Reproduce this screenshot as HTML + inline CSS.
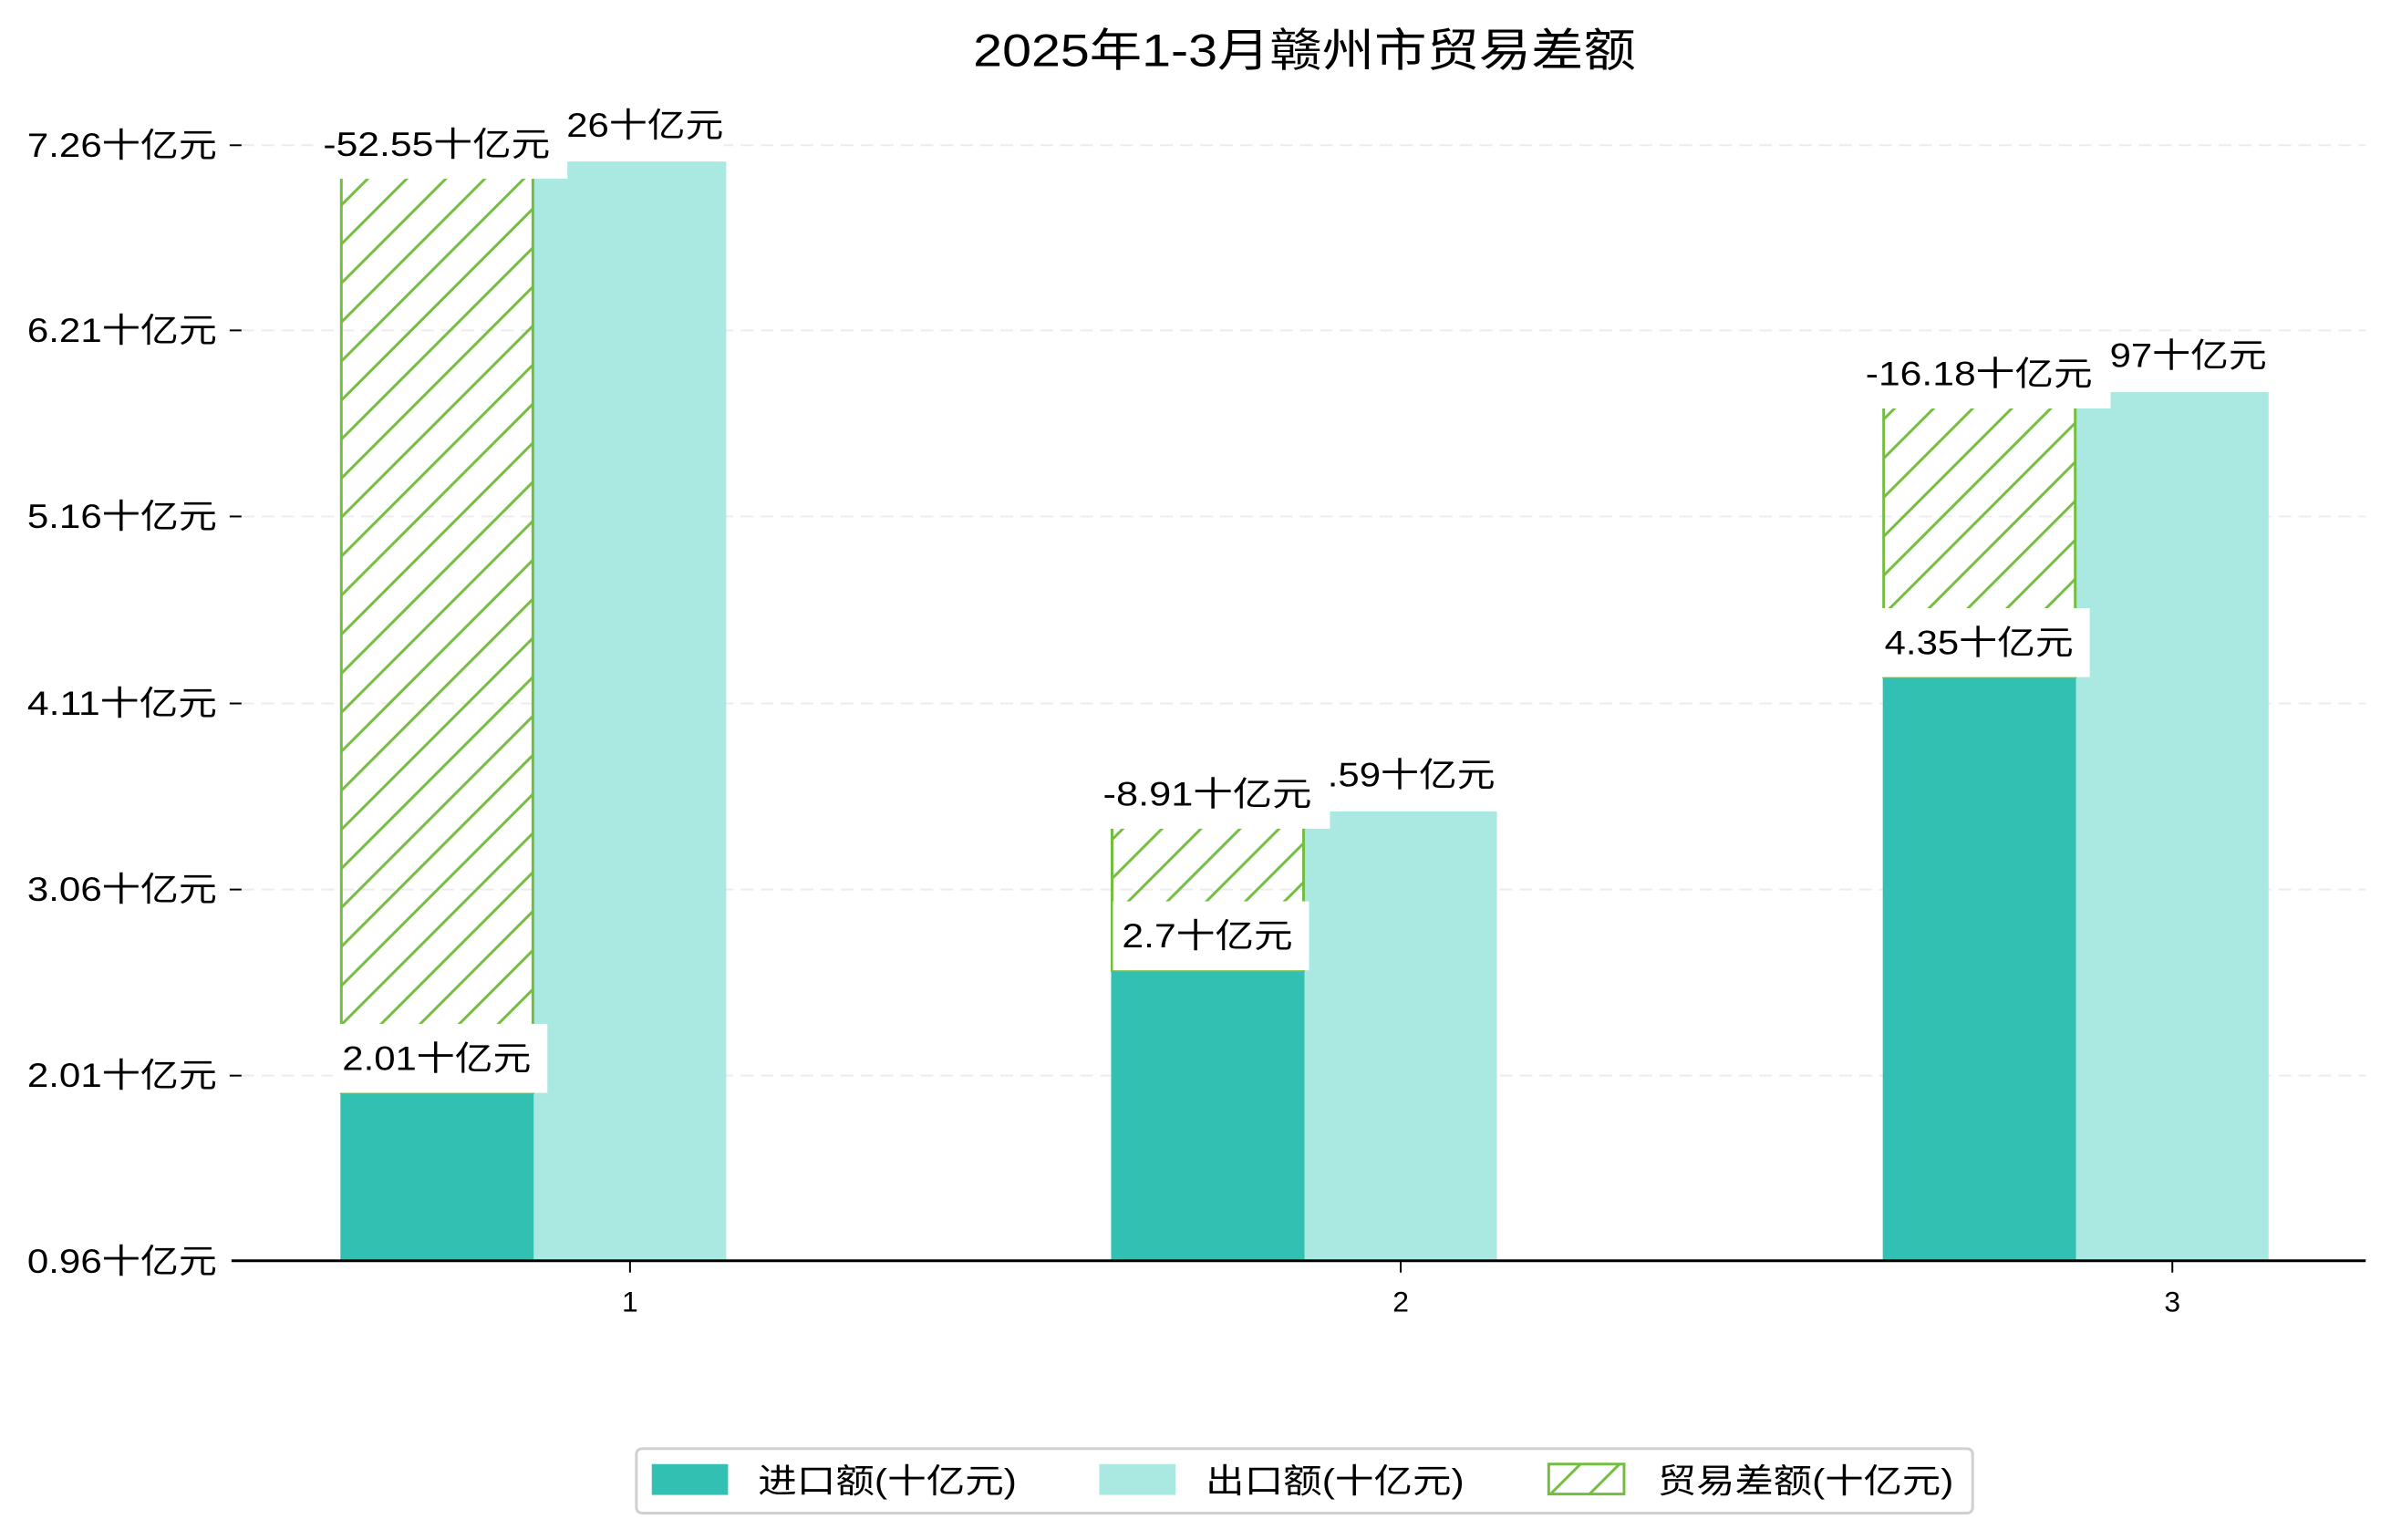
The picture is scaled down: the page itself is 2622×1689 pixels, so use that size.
<!DOCTYPE html>
<html><head><meta charset="utf-8"><style>
html,body{margin:0;padding:0;background:#fff;}
svg{display:block;}
text{font-family:"Liberation Sans","WenQuanYi Zen Hei","Noto Sans CJK SC",sans-serif;fill:#000;}
</style></head><body>
<svg width="2622" height="1689" viewBox="0 0 2622 1689" xmlns="http://www.w3.org/2000/svg">
<defs>
<pattern id="h" patternUnits="userSpaceOnUse" width="43" height="43">
<path d="M-5,48 L48,-5 M-5,5 L5,-5 M38,48 L48,38" stroke="#75bd42" stroke-width="3"/>
</pattern>
</defs>
<rect width="2622" height="1689" fill="#fff"/>
<g transform="scale(0.9955)">
<text x="1437" y="56" font-size="50" text-anchor="middle" dominant-baseline="central" textLength="730" lengthAdjust="spacingAndGlyphs">2025年1-3月赣州市贸易差额</text>
<g stroke="#ececec" stroke-width="2" stroke-dasharray="14,8">
<line x1="266" y1="160" x2="2606" y2="160"/>
<line x1="266" y1="364" x2="2606" y2="364"/>
<line x1="266" y1="569" x2="2606" y2="569"/>
<line x1="266" y1="775" x2="2606" y2="775"/>
<line x1="266" y1="980" x2="2606" y2="980"/>
<line x1="266" y1="1185" x2="2606" y2="1185"/>
</g>
<g font-size="37" text-anchor="end" dominant-baseline="central">
<text x="239" y="160" textLength="209" lengthAdjust="spacingAndGlyphs">7.26十亿元</text>
<text x="239" y="364" textLength="209" lengthAdjust="spacingAndGlyphs">6.21十亿元</text>
<text x="239" y="569" textLength="209" lengthAdjust="spacingAndGlyphs">5.16十亿元</text>
<text x="239" y="775" textLength="209" lengthAdjust="spacingAndGlyphs">4.11十亿元</text>
<text x="239" y="980" textLength="209" lengthAdjust="spacingAndGlyphs">3.06十亿元</text>
<text x="239" y="1185" textLength="209" lengthAdjust="spacingAndGlyphs">2.01十亿元</text>
<text x="239" y="1390" textLength="209" lengthAdjust="spacingAndGlyphs">0.96十亿元</text>
</g>
<g stroke="#000" stroke-width="2">
<line x1="253" y1="160" x2="266" y2="160"/><line x1="253" y1="364" x2="266" y2="364"/>
<line x1="253" y1="569" x2="266" y2="569"/><line x1="253" y1="775" x2="266" y2="775"/>
<line x1="253" y1="980" x2="266" y2="980"/><line x1="253" y1="1185" x2="266" y2="1185"/>
</g>
<rect x="375" y="1204" width="213" height="185" fill="#31c0b2"/>
<rect x="588" y="178" width="212" height="1211" fill="#aae8e2"/>
<rect x="1224" y="1069" width="213" height="320" fill="#31c0b2"/>
<rect x="1437" y="894" width="212" height="495" fill="#aae8e2"/>
<rect x="2074" y="746" width="213" height="643" fill="#31c0b2"/>
<rect x="2287" y="432" width="212" height="957" fill="#aae8e2"/>
<g fill="url(#h)" stroke="#75bd42" stroke-width="3">
<rect x="376" y="178" width="211" height="1026"/>
<rect x="1225" y="894" width="211" height="175"/>
<rect x="2075" y="432" width="211" height="314"/>
</g>
<line x1="255" y1="1389" x2="2606" y2="1389" stroke="#000" stroke-width="3"/>
<g stroke="#000" stroke-width="2">
<line x1="694" y1="1389" x2="694" y2="1402"/><line x1="1543" y1="1389" x2="1543" y2="1402"/><line x1="2393" y1="1389" x2="2393" y2="1402"/>
</g>
<g font-size="32" text-anchor="middle" dominant-baseline="central">
<text x="694" y="1434">1</text><text x="1543" y="1434">2</text><text x="2393" y="1434">3</text>
</g>
<g font-size="37" text-anchor="middle" dominant-baseline="central">
<rect x="589" y="100" width="208" height="76" fill="#fff"/>
<text x="693" y="138" textLength="208" lengthAdjust="spacingAndGlyphs">7.26十亿元</text>
<text x="1543" y="854" textLength="208" lengthAdjust="spacingAndGlyphs">3.59十亿元</text>
<text x="2393" y="392" textLength="208" lengthAdjust="spacingAndGlyphs">5.97十亿元</text>
<rect x="367" y="1128" width="236" height="76" fill="#fff"/>
<text x="481" y="1166" textLength="208" lengthAdjust="spacingAndGlyphs">2.01十亿元</text>
<rect x="1226" y="993" width="216" height="76" fill="#fff"/>
<text x="1330" y="1031" textLength="188" lengthAdjust="spacingAndGlyphs">2.7十亿元</text>
<rect x="2066" y="670" width="236" height="76" fill="#fff"/>
<text x="2180" y="708" textLength="208" lengthAdjust="spacingAndGlyphs">4.35十亿元</text>
<rect x="345" y="121" width="280" height="76" fill="#fff"/>
<text x="481" y="159" textLength="250" lengthAdjust="spacingAndGlyphs">-52.55十亿元</text>
<rect x="1205" y="837" width="260" height="76" fill="#fff"/>
<text x="1330" y="875" textLength="230" lengthAdjust="spacingAndGlyphs">-8.91十亿元</text>
<rect x="2043" y="374" width="282" height="76" fill="#fff"/>
<text x="2180" y="412" textLength="250" lengthAdjust="spacingAndGlyphs">-16.18十亿元</text>
</g>
<rect x="701" y="1596" width="1472" height="71" rx="6" fill="#fff" stroke="#d0d0d0" stroke-width="3"/>
<rect x="718" y="1613" width="84" height="34" fill="#31c0b2"/>
<rect x="1211" y="1613" width="84" height="34" fill="#aae8e2"/>
<rect x="1706" y="1613" width="83" height="33" fill="url(#h)" stroke="#75bd42" stroke-width="3"/>
<g font-size="37" dominant-baseline="central">
<text x="835" y="1632" textLength="285" lengthAdjust="spacingAndGlyphs">进口额(十亿元)</text>
<text x="1328" y="1632" textLength="285" lengthAdjust="spacingAndGlyphs">出口额(十亿元)</text>
<text x="1826" y="1632" textLength="326" lengthAdjust="spacingAndGlyphs">贸易差额(十亿元)</text>
</g>
</g>
</svg>
</body></html>
